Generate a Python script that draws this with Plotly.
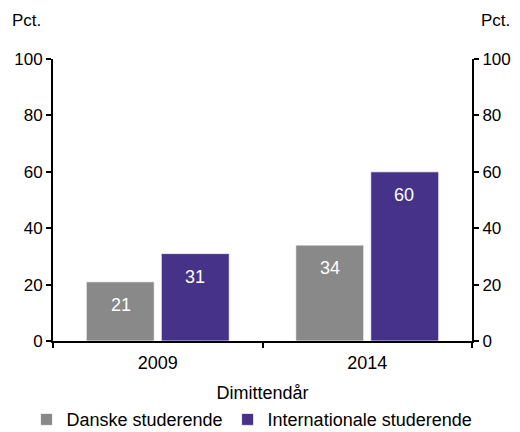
import plotly.graph_objects as go

categories = ["2009", "2014"]
danske = [21, 34]
internationale = [31, 60]
series_names = ["Danske studerende", "Internationale studerende"]
colors = ["#898989", "#463289"]
y_ticks = [0, 20, 40, 60, 80, 100]

FONT = "Liberation Sans, Arial, sans-serif"

fig = go.Figure()
for name, vals, col in zip(series_names, [danske, internationale], colors):
    fig.add_trace(go.Bar(
        x=categories, y=vals, name=name,
        marker=dict(color=col, line=dict(color="white", width=0.8)),
    ))

# invisible trace to activate right axis
fig.add_trace(go.Scatter(x=categories, y=danske, yaxis="y2", mode="markers",
                         marker=dict(opacity=0), showlegend=False, hoverinfo="skip"))

# value labels inside bars near top (category index used for category axis)
for vals, shift in zip([danske, internationale], [-37, 37]):
    for idx, v in enumerate(vals):
        fig.add_annotation(x=idx, y=v, xref="x", yref="y", text=str(v),
                           showarrow=False, xshift=shift, yshift=-23,
                           font=dict(family=FONT, size=18, color="white"))

fig.add_annotation(xref="paper", yref="paper", x=-0.103, y=1.138, xanchor="left",
                   yanchor="middle", text="Pct.", showarrow=False,
                   font=dict(family=FONT, size=17, color="black"))
fig.add_annotation(xref="paper", yref="paper", x=1.055, y=1.138, xanchor="center",
                   yanchor="middle", text="Pct.", showarrow=False,
                   font=dict(family=FONT, size=17, color="black"))

axis_common = dict(range=[0, 100], autorange=False, tickvals=y_ticks, ticks="outside",
                   ticklen=5, tickwidth=2, tickcolor="black", showline=True,
                   linecolor="black", linewidth=2, showgrid=False, zeroline=False,
                   automargin=False,
                   tickfont=dict(family=FONT, size=17, color="black"))

fig.update_layout(
    width=512, height=424,
    margin=dict(l=45, r=48, t=51, b=91, autoexpand=False),
    paper_bgcolor="white", plot_bgcolor="white",
    barmode="group", bargap=0.284, bargroupgap=0.093,
    font=dict(family=FONT, color="black"),
    xaxis=dict(type="category", range=[-0.5, 1.5], autorange=False,
               tickson="boundaries", ticks="outside", ticklen=5, tickwidth=2,
               tickcolor="black", showline=True, linecolor="black", linewidth=2,
               automargin=False, tickangle=0, ticklabelstandoff=4,
               tickfont=dict(family=FONT, size=18, color="black"),
               title=dict(text="Dimittendår", font=dict(family=FONT, size=18, color="black"))),
    yaxis=dict(side="left", **axis_common),
    yaxis2=dict(side="right", overlaying="y", **axis_common),
    legend=dict(orientation="h", x=-0.0633, xanchor="left", y=-0.279, yanchor="middle",
                font=dict(family=FONT, size=18, color="black"),
                itemwidth=30, tracegroupgap=0, itemclick=False),
    showlegend=True,
)

fig.write_html("out.html")
